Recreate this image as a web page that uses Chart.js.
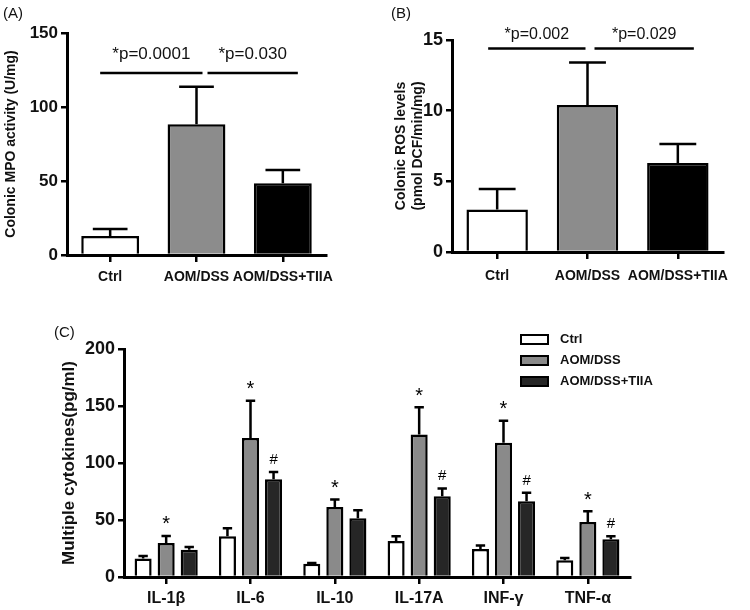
<!DOCTYPE html>
<html lang="en">
<head>
<meta charset="UTF-8">
<title>Colonic MPO, ROS and cytokines</title>
<script src="https://cdn.jsdelivr.net/npm/chart.js@4.4.1/dist/chart.umd.min.js"></script>
<style>
    body { margin: 0; background: #fff; font-family: Arial, 'Liberation Sans', sans-serif; }
    .wrap { position: relative; width: 750px; height: 610px; }
    canvas { position: absolute; }
    .tag { position: absolute; font-size: 15px; color: #111; z-index: 2; }
</style>
</head>
<body>
<div class="wrap">
    <canvas id="mpo" width="375" height="300" style="left:0;top:0"></canvas>
    <canvas id="ros" width="375" height="300" style="left:375px;top:0"></canvas>
    <canvas id="cyto" width="750" height="310" style="left:0;top:300px"></canvas>
    <div class="tag" style="left:3px;top:4px">(A)</div>
    <div class="tag" style="left:391px;top:4px">(B)</div>
    <div class="tag" style="left:54px;top:323px">(C)</div>
</div>
<script>
    // panel A / B
    const groups = ['Ctrl', 'AOM/DSS', 'AOM/DSS+TIIA'];
    const mpoMean = [12.8, 88.3, 48.4];
    const mpoSem = [4.8, 25.4, 9.0];
    const mpoSig = [
        { from: 0, to: 1, y: 123, text: '*p=0.0001' },
        { from: 1, to: 2, y: 123, text: '*p=0.030' }
    ];
    const rosMean = [3.0, 10.4, 6.3];
    const rosSem = [1.45, 3.0, 1.35];
    const rosSig = [
        { from: 0, to: 1, y: 14.4, text: '*p=0.002' },
        { from: 1, to: 2, y: 14.4, text: '*p=0.029' }
    ];

    // panel C
    const cytokines = ['IL-1β', 'IL-6', 'IL-10', 'IL-17A', 'INF-γ', 'TNF-α'];
    const ctrlMean = [16.2, 35.7, 11.7, 31.6, 24.6, 14.7];
    const ctrlSem = [2.3, 7.1, 0.5, 4.1, 3.0, 2.0];
    const aomMean = [29.9, 122, 61.5, 125, 117.7, 48.3];
    const aomSem = [6.1, 32.6, 6.5, 23.8, 19.3, 9.4];
    const tiiaMean = [24, 85.8, 51.5, 70.9, 66.5, 33.1];
    const tiiaSem = [2.4, 6.2, 7.1, 6.7, 7.3, 2.6];
    const aomMarks = ['*', '*', '*', '*', '*', '*'];
    const tiiaMarks = ['', '#', '', '#', '#', '#'];

    const FONT = "Arial, 'Liberation Sans', sans-serif";
    const BLACK = '#000';

    const errorBars = {
        id: 'errorBars',
        afterDatasetsDraw(chart, args, opts) {
            const ctx = chart.ctx;
            const y = chart.scales.y;
            chart.data.datasets.forEach((ds, di) => {
                const meta = chart.getDatasetMeta(di);
                meta.data.forEach((bar, i) => {
                    const top = y.getPixelForValue(ds.data[i] + ds.sem[i]);
                    const half = bar.width * opts.cap / 2;
                    ctx.save();
                    ctx.strokeStyle = BLACK;
                    ctx.lineWidth = opts.width;
                    ctx.beginPath();
                    ctx.moveTo(bar.x, bar.y);
                    ctx.lineTo(bar.x, top);
                    ctx.moveTo(bar.x - half, top);
                    ctx.lineTo(bar.x + half, top);
                    ctx.stroke();
                    const mark = ds.marks ? ds.marks[i] : '';
                    if (mark) {
                        ctx.fillStyle = BLACK;
                        ctx.textAlign = 'center';
                        ctx.textBaseline = 'bottom';
                        ctx.font = mark === '*' ? `20px ${FONT}` : `15px ${FONT}`;
                        ctx.fillText(mark, bar.x, top - (mark === '*' ? 1 : 5));
                    }
                    ctx.restore();
                });
            });
        }
    };

    const sigBars = {
        id: 'sigBars',
        afterDraw(chart, args, opts) {
            if (!opts.items) return;
            const ctx = chart.ctx;
            const x = chart.scales.x, y = chart.scales.y;
            opts.items.forEach((s, k) => {
                const py = y.getPixelForValue(s.y);
                const x0 = x.getPixelForValue(s.from) + opts.ends[k][0];
                const x1 = x.getPixelForValue(s.to) + opts.ends[k][1];
                ctx.save();
                ctx.strokeStyle = BLACK;
                ctx.lineWidth = 2.5;
                ctx.beginPath();
                ctx.moveTo(x0, py);
                ctx.lineTo(x1, py);
                ctx.stroke();
                ctx.fillStyle = '#111';
                ctx.font = `${opts.size}px ${FONT}`;
                ctx.textAlign = 'center';
                ctx.textBaseline = 'bottom';
                ctx.fillText(s.text, (x0 + x1) / 2, py - opts.gap);
                ctx.restore();
            });
        }
    };

    const boxLegend = {
        id: 'boxLegend',
        afterDraw(chart, args, opts) {
            if (!opts.x) return;
            const ctx = chart.ctx;
            chart.data.datasets.forEach((ds, i) => {
                const cy = opts.y + i * opts.step;
                ctx.save();
                ctx.fillStyle = ds.backgroundColor;
                ctx.fillRect(opts.x, cy - 4, 27, 9);
                ctx.strokeStyle = BLACK;
                ctx.lineWidth = 2;
                ctx.strokeRect(opts.x, cy - 4, 27, 9);
                ctx.fillStyle = '#111';
                ctx.font = `bold 13px ${FONT}`;
                ctx.textBaseline = 'middle';
                ctx.fillText(ds.label, opts.x + 39, cy);
                ctx.restore();
            });
        }
    };

    function yAxis(max, step, tickSize, title, titleSize, titlePad, width) {
        return {
            min: 0,
            max: max,
            ticks: { stepSize: step, color: '#111', padding: 3, font: { family: FONT, size: tickSize, weight: 'bold' } },
            grid: { drawOnChartArea: false, drawTicks: true, tickLength: 6, color: BLACK, lineWidth: 2.5 },
            border: { color: BLACK, width: 3 },
            title: { display: true, text: title, color: '#111', padding: { top: titlePad, bottom: 0 },
                     font: { family: FONT, size: titleSize, weight: 'bold' } },
            afterFit(s) { s.width = width; }
        };
    }

    function xAxis(labelSize, pad, height) {
        return {
            ticks: { color: '#111', padding: pad, autoSkip: false, maxRotation: 0, minRotation: 0,
                     font: { family: FONT, size: labelSize, weight: 'bold' } },
            grid: { drawOnChartArea: false, drawTicks: true, tickLength: 7, color: BLACK, lineWidth: 2.5, offset: false },
            border: { color: BLACK, width: 3 },
            afterFit(s) { s.height = height; }
        };
    }

    function groupChart(id, mean, sem, sig, yOpts, xOpts, pad, sigOpts, barPct) {
        return new Chart(document.getElementById(id), {
            type: 'bar',
            data: {
                labels: groups,
                datasets: [{
                    data: mean,
                    sem: sem,
                    backgroundColor: ['#ffffff', '#8c8c8c', '#000000'],
                    borderColor: BLACK,
                    borderWidth: 2.5,
                    categoryPercentage: 1,
                    barPercentage: barPct
                }]
            },
            options: {
                responsive: false,
                devicePixelRatio: 1,
                animation: false,
                layout: { padding: pad },
                plugins: {
                    legend: { display: false },
                    tooltip: { enabled: false },
                    errorBars: { cap: 0.6, width: 2.5 },
                    sigBars: Object.assign({ items: sig }, sigOpts),
                    boxLegend: {}
                },
                scales: { x: xOpts, y: yOpts }
            },
            plugins: [errorBars, sigBars, boxLegend]
        });
    }

    groupChart('mpo', mpoMean, mpoSem, mpoSig,
        yAxis(150, 50, 17, 'Colonic MPO activity (U/mg)', 14, 3, 67),
        xAxis(14, 7, 45),
        { left: 0, top: 33, right: 49, bottom: 0 },
        { size: 17, gap: 10, ends: [[-10, 6], [11, 15]] }, 0.67);

    groupChart('ros', rosMean, rosSem, rosSig,
        yAxis(15, 5, 18, ['Colonic ROS levels', '(pmol DCF/min/mg)'], 14, 18, 77),
        xAxis(14, 9, 48),
        { left: 0, top: 40, right: 27, bottom: 0 },
        { size: 16, gap: 6, ends: [[-9, -2], [7, 16]] }, 0.68);

    new Chart(document.getElementById('cyto'), {
        type: 'bar',
        data: {
            labels: cytokines,
            datasets: [
                { label: 'Ctrl', data: ctrlMean, sem: ctrlSem, backgroundColor: '#ffffff' },
                { label: 'AOM/DSS', data: aomMean, sem: aomSem, marks: aomMarks, backgroundColor: '#8a8a8a' },
                { label: 'AOM/DSS+TIIA', data: tiiaMean, sem: tiiaSem, marks: tiiaMarks, backgroundColor: '#262626' }
            ].map(d => Object.assign(d, { borderColor: BLACK, borderWidth: 2.5, categoryPercentage: 0.82, barPercentage: 0.74 }))
        },
        options: {
            responsive: false,
            devicePixelRatio: 1,
            animation: false,
            layout: { padding: { left: 0, top: 49, right: 120, bottom: 0 } },
            plugins: {
                legend: { display: false },
                tooltip: { enabled: false },
                errorBars: { cap: 0.55, width: 2.5 },
                sigBars: {},
                boxLegend: { x: 521, y: 39, step: 21 }
            },
            scales: {
                x: xAxis(16, 5, 33),
                y: yAxis(200, 50, 18, 'Multiple cytokines(pg/ml)', 17, 59, 124)
            }
        },
        plugins: [errorBars, sigBars, boxLegend]
    });
</script>
</body>
</html>
